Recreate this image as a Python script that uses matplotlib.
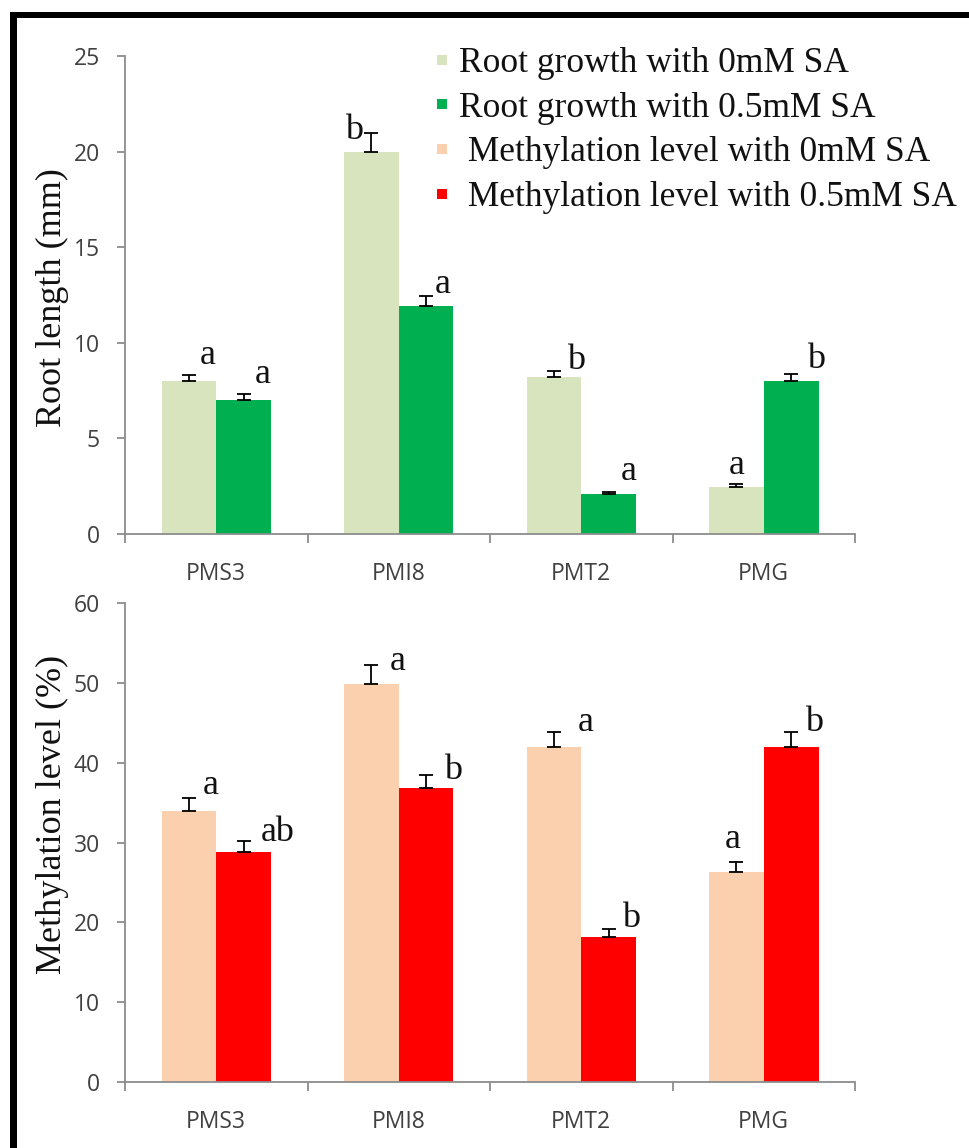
import matplotlib
matplotlib.use('Agg')
import matplotlib.pyplot as plt
import numpy as np
from matplotlib.lines import Line2D
from matplotlib.patches import Rectangle

# ---------------- data ----------------
categories = ['PMS3', 'PMI8', 'PMT2', 'PMG']

root_0mM = [8.0, 20.0, 8.2, 2.45]
root_0mM_err = [0.3, 0.95, 0.35, 0.15]
root_05mM = [7.0, 11.9, 2.1, 8.0]
root_05mM_err = [0.3, 0.55, 0.1, 0.35]

meth_0mM = [34.0, 49.8, 42.0, 26.3]
meth_0mM_err = [1.6, 2.4, 1.9, 1.2]
meth_05mM = [28.8, 36.8, 18.2, 42.0]
meth_05mM_err = [1.4, 1.6, 1.0, 1.9]

root_0mM_letters = ['a', 'b', 'b', 'a']
root_05mM_letters = ['a', 'a', 'a', 'b']
meth_0mM_letters = ['a', 'a', 'a', 'a']
meth_05mM_letters = ['ab', 'b', 'b', 'b']

legend_labels = ['Root growth with 0mM SA',
                 'Root growth with 0.5mM SA',
                 ' Methylation level with 0mM SA',
                 ' Methylation level with 0.5mM SA']

root_yticks = [0, 5, 10, 15, 20, 25]
meth_yticks = [0, 10, 20, 30, 40, 50, 60]

# ---------------- style / layout ----------------
C_LGREEN = '#D7E4BD'
C_GREEN = '#00B050'
C_PEACH = '#FAD0AE'
C_RED = '#FF0000'
SPINE = '#8C8C8C'
TICKTXT = '#404040'
SERIF = ['Liberation Serif', 'DejaVu Serif']
SANS = ['Open Sans', 'DejaVu Sans']

# letter offsets in pixels (dx, dy) relative to bar centre / error-bar top
root0_off = [(19, 11), (-17, -6), (22, 2), (0, 10)]
root05_off = [(19, 11), (17, 3), (20, 12), (25, 6)]
meth0_off = [(22, 4), (26, -5), (32, 1), (-4, 14)]
meth05_off = [(34, 0), (27, -4), (22, 2), (23, 1)]

W, H = 969, 1148
fig = plt.figure(figsize=(W / 100, H / 100), dpi=100)
fig.patch.set_facecolor('white')

ax1 = fig.add_axes([125 / W, 1 - 534 / H, 730 / W, (534 - 56) / H])
ax2 = fig.add_axes([125 / W, 1 - 1082 / H, 730 / W, (1082 - 603) / H])

x = np.arange(len(categories))
bw = 0.3
PX2PT = 0.72


def draw(ax, v0, e0, v1, e1, c0, c1, l0, l1, o0, o1, ymax, yticks):
    ax.bar(x - bw / 2, v0, bw, color=c0, linewidth=0, zorder=2)
    ax.bar(x + bw / 2, v1, bw, color=c1, linewidth=0, zorder=2)
    for xs, v, e in ((x - bw / 2, v0, e0), (x + bw / 2, v1, e1)):
        ax.errorbar(xs, v, yerr=[np.zeros(len(v)), e], fmt='none',
                    ecolor='black', elinewidth=1.3, capsize=5, capthick=1.3,
                    zorder=3)
    for xs, v, e, labs, offs in ((x - bw / 2, v0, e0, l0, o0),
                                 (x + bw / 2, v1, e1, l1, o1)):
        for xi, vi, ei, lab, (dx, dy) in zip(xs, v, e, labs, offs):
            ax.annotate(lab, xy=(xi, vi + ei),
                        xytext=(dx * PX2PT, dy * PX2PT),
                        textcoords='offset points', ha='center',
                        va='baseline', fontsize=26, family=SERIF,
                        color='#111111', zorder=4)
    ax.set_xlim(-0.5, len(categories) - 0.5)
    ax.set_ylim(0, ymax)
    ax.set_yticks(yticks)
    ax.set_xticks(np.arange(len(categories) + 1) - 0.5)
    ax.set_xticklabels([])
    ax.set_xticks(x, minor=True)
    ax.set_xticklabels(categories, minor=True)
    for s in ('top', 'right'):
        ax.spines[s].set_visible(False)
    for s in ('left', 'bottom'):
        ax.spines[s].set_color(SPINE)
        ax.spines[s].set_linewidth(1.3)
    ax.tick_params(axis='y', which='major', direction='out', length=6,
                   width=1.3, color=SPINE, pad=12, labelsize=16.5,
                   labelcolor=TICKTXT)
    ax.tick_params(axis='x', which='major', direction='out', length=6.5,
                   width=1.3, color=SPINE)
    ax.tick_params(axis='x', which='minor', length=0, pad=20,
                   labelsize=16.5, labelcolor=TICKTXT)
    for lab in ax.get_yticklabels() + ax.get_xticklabels(minor=True):
        lab.set_family(SANS)
    ax.set_facecolor('none')


draw(ax1, root_0mM, root_0mM_err, root_05mM, root_05mM_err,
     C_LGREEN, C_GREEN, root_0mM_letters, root_05mM_letters,
     root0_off, root05_off, 25, root_yticks)
draw(ax2, meth_0mM, meth_0mM_err, meth_05mM, meth_05mM_err,
     C_PEACH, C_RED, meth_0mM_letters, meth_05mM_letters,
     meth0_off, meth05_off, 60, meth_yticks)

fig.text(52 / W, 1 - 298 / H, 'Root length (mm)', rotation=90,
         ha='center', va='center', fontsize=26, family=SERIF, color='#111111')
fig.text(52 / W, 1 - 814 / H, 'Methylation level (%)', rotation=90,
         ha='center', va='center', fontsize=26, family=SERIF, color='#111111')

handles = [Line2D([], [], linestyle='none', marker='s', markersize=7.5,
                  markerfacecolor=c, markeredgewidth=0)
           for c in (C_LGREEN, C_GREEN, C_PEACH, C_RED)]
fig.legend(handles, legend_labels, loc='upper left',
           bbox_to_anchor=(431 / W, 1 - 47 / H), frameon=False,
           prop={'family': SERIF, 'size': 25.5}, handlelength=0.6,
           handletextpad=0.2, labelspacing=0.33, borderpad=0,
           borderaxespad=0, labelcolor='#111111')

# black frame remnants (left and top)
fig.add_artist(Rectangle((10 / W, 0), 7 / W, (H - 12) / H,
                         transform=fig.transFigure, color='black', lw=0))
fig.add_artist(Rectangle((10 / W, 1 - 18 / H), 1 - 10 / W, 6 / H,
                         transform=fig.transFigure, color='black', lw=0))

fig.savefig('out.png', dpi=100, facecolor='white')
